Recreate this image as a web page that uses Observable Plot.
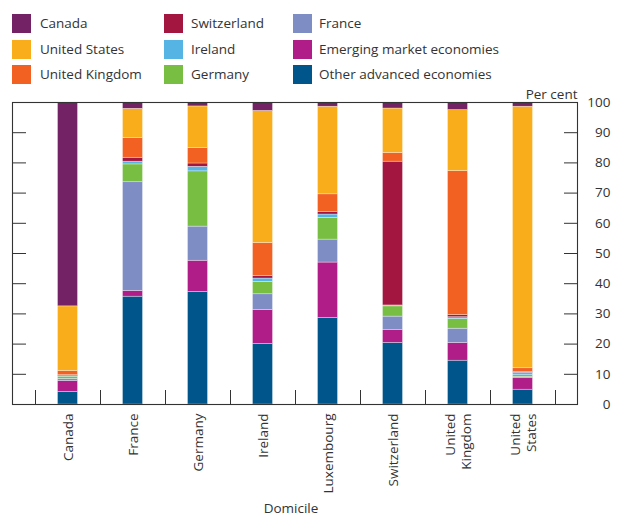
<!DOCTYPE html>
<html>
<head>
<meta charset="utf-8">
<script src="https://cdn.jsdelivr.net/npm/d3@7"></script>
<script src="https://cdn.jsdelivr.net/npm/@observablehq/plot@0.6"></script>
<style>
  html, body { margin: 0; padding: 0; background: #fff; }
  body { width: 618px; height: 519px; overflow: hidden; font-family: "Open Sans", sans-serif; color: #333; }
  #legend { position: relative; height: 80px; }
  .sw { position: absolute; width: 19px; height: 19px; }
  .lb { position: absolute; font-size: 13.5px; line-height: 19px; white-space: nowrap; color: #333; }
</style>
</head>
<body>
<div id="legend"></div>
<div id="chart"></div>
<script>
// Domiciles (x categories)
const domiciles = ["Canada", "France", "Germany", "Ireland", "Luxembourg", "Switzerland", "United Kingdom", "United States"];
const domicileLabels = ["Canada", "France", "Germany", "Ireland", "Luxembourg", "Switzerland", "United\nKingdom", "United\nStates"];

// Series, bottom of stack to top
const seriesNames = ["Other advanced economies", "Emerging market economies", "France", "Germany", "Ireland", "Switzerland", "United Kingdom", "United States", "Canada"];
const seriesColors = ["#00558b", "#b01c88", "#7e8ec5", "#78be43", "#56b4e5", "#a2163f", "#f26122", "#f9ad1b", "#742266"];

// Values, per cent, in domicile order
const otherAdvanced = [4.2, 35.7, 37.3, 20.1, 28.7, 20.4, 14.5, 4.9];
const emerging      = [3.6, 1.9, 10.3, 11.2, 18.3, 4.2, 5.9, 3.8];
const france        = [0.7, 36.0, 11.3, 5.2, 7.6, 4.5, 4.7, 0.4];
const germany       = [0.7, 5.9, 18.3, 4.1, 7.2, 3.4, 3.2, 0.6];
const ireland       = [0.2, 0.9, 1.5, 1.1, 1.1, 0.3, 0.6, 0.8];
const switzerland   = [0.3, 1.3, 1.1, 0.9, 0.9, 47.6, 0.7, 0.2];
const unitedKingdom = [1.4, 6.6, 5.1, 10.9, 5.8, 2.9, 47.7, 1.3];
const unitedStates  = [21.4, 9.6, 13.8, 43.7, 29.0, 14.7, 20.2, 86.6];
const canada        = [67.5, 2.1, 1.3, 2.8, 1.4, 2.0, 2.5, 1.4];

const seriesValues = [otherAdvanced, emerging, france, germany, ireland, switzerland, unitedKingdom, unitedStates, canada];

// Axis ticks
const yTickLabels = [0, 10, 20, 30, 40, 50, 60, 70, 80, 90, 100];
const yInnerTicks = [10, 20, 30, 40, 50, 60, 70, 80, 90];

// Legend order (column-major)
const legendOrder = ["Canada", "United States", "United Kingdom", "Switzerland", "Ireland", "Germany", "France", "Emerging market economies", "Other advanced economies"];

// Build table
const data = [];
seriesNames.forEach((s, si) => {
  domiciles.forEach((d, di) => {
    data.push({domicile: d, series: s, value: seriesValues[si][di]});
  });
});

// Legend
const legend = document.getElementById("legend");
const colX = [[12, 40], [164, 191], [293, 319]];
const rowY = [14, 39.5, 65];
legendOrder.forEach((name, i) => {
  const c = Math.floor(i / 3), r = i % 3;
  const sw = document.createElement("div");
  sw.className = "sw";
  sw.style.left = colX[c][0] + "px";
  sw.style.top = rowY[r] + "px";
  sw.style.background = seriesColors[seriesNames.indexOf(name)];
  legend.appendChild(sw);
  const lb = document.createElement("div");
  lb.className = "lb";
  lb.style.left = colX[c][1] + "px";
  lb.style.top = rowY[r] + "px";
  lb.textContent = name;
  legend.appendChild(lb);
});

const W = 618, H = 439;
const mL = 12, mR = 41, mT = 22, mB = 115;
const plotW = W - mL - mR;
const plotH = H - mT - mB;
const labelFor = d => domicileLabels[domiciles.indexOf(d)];
const last = domiciles[domiciles.length - 1];

const chart = Plot.plot({
  width: W,
  height: H,
  marginLeft: mL,
  marginRight: mR,
  marginTop: mT,
  marginBottom: mB,
  style: {fontFamily: "Open Sans, sans-serif", fontSize: "13.5px", color: "#333", background: "#fff"},
  x: {type: "band", domain: domiciles, paddingInner: 0, paddingOuter: 0.346, align: 0.511, axis: null},
  y: {domain: [0, 100], axis: null},
  color: {domain: seriesNames, range: seriesColors},
  marks: [
    Plot.barY(data, {
      x: "domicile", y: "value", fill: "series", z: "series",
      order: seriesNames,
      insetLeft: 22.5, insetRight: 22.5,
      stroke: "#fff", strokeWidth: 0.6, strokeOpacity: 0.55
    }),
    Plot.frame({stroke: "#333", strokeWidth: 1.1}),
    // left inward ticks
    Plot.ruleY(yInnerTicks, {y: d => d, stroke: "#333", insetRight: plotW - 14}),
    // right inward ticks
    Plot.ruleY(yInnerTicks, {y: d => d, stroke: "#333", insetLeft: plotW - 13}),
    // bottom ticks at band boundaries
    Plot.ruleX(domiciles, {x: d => d, dx: -32.5, stroke: "#333", insetTop: plotH - 14}),
    Plot.ruleX([last], {x: d => d, dx: 32.5, stroke: "#333", insetTop: plotH - 14}),
    // right tick labels
    Plot.text(yTickLabels, {y: d => d, text: d => String(d), frameAnchor: "right", textAnchor: "end", dx: 33, fill: "#333"}),
    Plot.text(["Per cent"], {text: d => d, frameAnchor: "top-right", textAnchor: "end", dy: -13, fill: "#333"}),
    // x labels
    Plot.text(domiciles, {x: d => d, text: labelFor, frameAnchor: "bottom", rotate: -90, textAnchor: "end", lineAnchor: "middle", lineHeight: 1.2, dy: 9, fill: "#333"}),
    Plot.text(["Domicile"], {text: d => d, frameAnchor: "bottom", dx: -4, dy: 108, fill: "#333"})
  ]
});
document.getElementById("chart").appendChild(chart);
</script>
</body>
</html>
